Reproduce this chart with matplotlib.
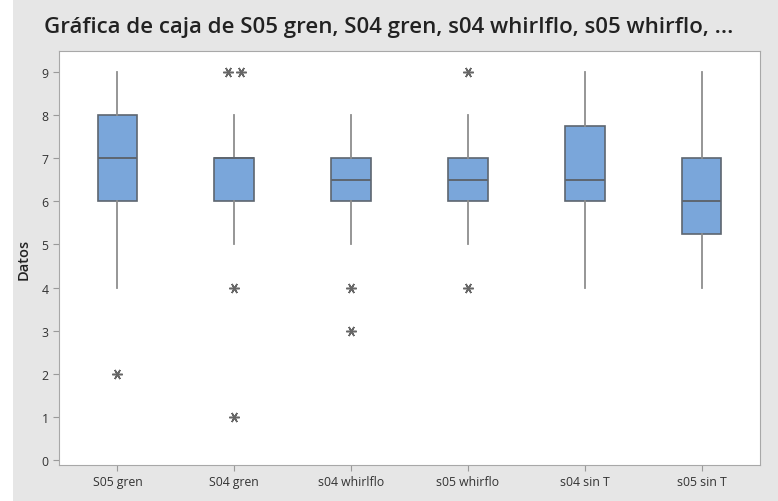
import matplotlib
matplotlib.use("Agg")
import matplotlib.pyplot as plt
from matplotlib.patches import Rectangle

# ---------------------------------------------------------------------------
# Data
# ---------------------------------------------------------------------------
CATEGORIES = ["S05 gren", "S04 gren", "s04 whirlflo", "s05 whirflo", "s04 sin T", "s05 sin T"]
Q1 = [6, 6, 6, 6, 6, 5.25]
MEDIAN = [7, 7, 6.5, 6.5, 6.5, 6]
Q3 = [8, 7, 7, 7, 7.75, 7]
WHISK_LO = [4, 5, 5, 5, 4, 4]
WHISK_HI = [9, 8, 8, 8, 9, 9]
OUTLIERS = [[2], [9, 9, 4, 1], [4, 3], [9, 4], [], []]
YTICKS = [0, 1, 2, 3, 4, 5, 6, 7, 8, 9]

TITLE = "Gráfica de caja de S05 gren, S04 gren, s04 whirlflo, s05 whirflo, ..."

BOX_FILL = "#7AA6DA"
BOX_EDGE = "#5E6670"
WHISK_COLOR = "#8E8E8E"
BG = "#E6E6E6"

plt.rcParams["font.family"] = ["Open Sans", "DejaVu Sans"]

fig = plt.figure(figsize=(7.78, 5.02), dpi=100, facecolor="white")
fig.patches.append(Rectangle((13 / 778, 0), 1, 1, transform=fig.transFigure,
                             facecolor=BG, edgecolor="none", zorder=-10))

ax = fig.add_axes([59 / 778, 1 - 466 / 502, (760 - 59) / 778, (466 - 52) / 502])
ax.set_facecolor("white")

stats = []
for i, name in enumerate(CATEGORIES):
    stats.append(dict(label=name, q1=Q1[i], med=MEDIAN[i], q3=Q3[i],
                      whislo=WHISK_LO[i], whishi=WHISK_HI[i], fliers=[]))

positions = list(range(1, len(CATEGORIES) + 1))
ax.bxp(stats, positions=positions, widths=0.34, patch_artist=True, showcaps=False,
       showfliers=False,
       boxprops=dict(facecolor=BOX_FILL, edgecolor=BOX_EDGE, linewidth=1.2),
       medianprops=dict(color=BOX_EDGE, linewidth=1.4),
       whiskerprops=dict(color=WHISK_COLOR, linewidth=1.3))

# outliers: repeated values drawn side by side, Minitab style
for pos, vals in zip(positions, OUTLIERS):
    seen = {}
    for v in vals:
        seen[v] = seen.get(v, 0) + 1
    for v, n in seen.items():
        offs = [0.0] if n == 1 else [(k - (n - 1) / 2) * 0.11 for k in range(n)]
        for o in offs:
            ax.plot(pos + o, v, marker=(6, 2, 90), linestyle="none", markersize=7.5,
                    color="#666666", markeredgewidth=1.1)

ax.set_xlim(0.5, 6.5)
ax.set_ylim(-0.12, 9.49)
ax.set_yticks(YTICKS)
ax.set_xticks(positions)
ax.set_xticklabels(CATEGORIES)
ax.tick_params(axis="both", colors="#9A9A9A", labelcolor="#333333", labelsize=8.8, length=4)
for s in ax.spines.values():
    s.set_color("#A8A8A8")

ax.set_ylabel("Datos", fontsize=10.5, fontweight="semibold", color="#222222", labelpad=8)
fig.text(44 / 778, 1 - 27 / 502, TITLE, fontsize=16, fontweight="semibold",
         color="#222222", va="center", ha="left")

fig.savefig("out.png", dpi=100, facecolor=fig.get_facecolor())
